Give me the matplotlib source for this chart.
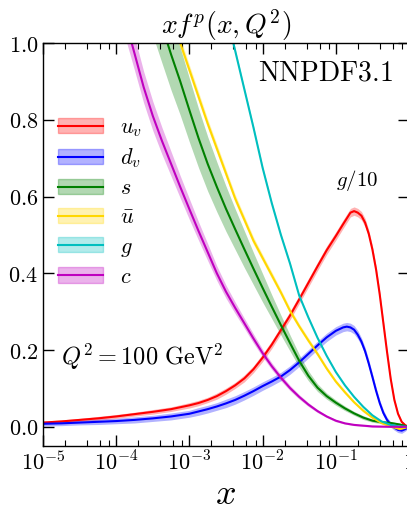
import numpy as np
import matplotlib
matplotlib.use("Agg")
import matplotlib.pyplot as plt
from matplotlib.patches import Patch
from matplotlib.lines import Line2D
from matplotlib.ticker import FixedLocator, FixedFormatter, LogLocator, NullFormatter

plt.rcParams['mathtext.fontset'] = 'cm'
plt.rcParams['font.family'] = ['DejaVu Serif']

# ---------------- data, x given as log10(x) ----------------
uv_logx = [-5.0, -4.75, -4.5, -4.25, -4.0, -3.75, -3.5, -3.25, -3.0, -2.875, -2.75, -2.625,
           -2.5, -2.375, -2.25, -2.125, -2.0, -1.875, -1.75, -1.625, -1.5, -1.375, -1.25,
           -1.125, -1.0, -0.9, -0.8, -0.75, -0.7, -0.65, -0.6, -0.55, -0.5, -0.45, -0.4,
           -0.35, -0.3, -0.25, -0.2, -0.15, -0.1, -0.05, 0.0]
uv_val = [0.011, 0.014, 0.018, 0.022, 0.027, 0.033, 0.039, 0.046, 0.056, 0.062, 0.070, 0.080,
          0.093, 0.108, 0.126, 0.150, 0.180, 0.214, 0.252, 0.290, 0.332, 0.375, 0.418,
          0.460, 0.497, 0.528, 0.558, 0.562, 0.558, 0.550, 0.532, 0.503, 0.462, 0.410, 0.345,
          0.270, 0.195, 0.125, 0.070, 0.034, 0.013, 0.004, 0.0]
uv_err = [0.004, 0.004, 0.004, 0.005, 0.005, 0.005, 0.006, 0.006, 0.007, 0.007, 0.007, 0.008,
          0.008, 0.008, 0.009, 0.009, 0.010, 0.010, 0.010, 0.011, 0.011, 0.011, 0.011,
          0.011, 0.011, 0.011, 0.011, 0.011, 0.011, 0.011, 0.011, 0.010, 0.010, 0.009, 0.009,
          0.008, 0.007, 0.006, 0.005, 0.004, 0.003, 0.002, 0.002]

dv_logx = [-5.0, -4.75, -4.5, -4.25, -4.0, -3.75, -3.5, -3.25, -3.0, -2.875, -2.75, -2.625,
           -2.5, -2.375, -2.25, -2.125, -2.0, -1.875, -1.75, -1.625, -1.5, -1.375, -1.25,
           -1.125, -1.0, -0.9, -0.85, -0.8, -0.75, -0.7, -0.65, -0.6, -0.55, -0.5, -0.45,
           -0.4, -0.35, -0.3, -0.25, -0.2, -0.15, -0.1, -0.05, 0.0]
dv_val = [0.008, 0.009, 0.011, 0.013, 0.015, 0.018, 0.022, 0.027, 0.034, 0.040, 0.046, 0.053,
          0.061, 0.070, 0.081, 0.093, 0.106, 0.118, 0.131, 0.148, 0.168, 0.190, 0.212,
          0.233, 0.250, 0.259, 0.261, 0.259, 0.253, 0.240, 0.222, 0.197, 0.165, 0.130, 0.094,
          0.062, 0.036, 0.018, 0.006, -0.002, -0.008, -0.010, -0.006, 0.0]
dv_err = [0.006, 0.006, 0.006, 0.007, 0.007, 0.008, 0.008, 0.009, 0.009, 0.010, 0.010, 0.010,
          0.011, 0.011, 0.011, 0.011, 0.011, 0.011, 0.011, 0.011, 0.011, 0.011, 0.011,
          0.011, 0.011, 0.011, 0.011, 0.011, 0.011, 0.011, 0.010, 0.010, 0.010, 0.009, 0.009,
          0.008, 0.008, 0.007, 0.007, 0.007, 0.007, 0.007, 0.005, 0.003]

s_logx = [-3.5, -3.375, -3.25, -3.125, -3.0, -2.875, -2.75, -2.625, -2.5, -2.375, -2.25,
          -2.125, -2.0, -1.875, -1.75, -1.625, -1.5, -1.375, -1.25, -1.125, -1.0, -0.875,
          -0.75, -0.625, -0.5, -0.375, -0.25, -0.125, 0.0]
s_val = [1.12, 1.045, 0.970, 0.900, 0.825, 0.752, 0.685, 0.625, 0.568, 0.515, 0.463,
         0.412, 0.362, 0.313, 0.265, 0.218, 0.172, 0.133, 0.102, 0.080, 0.063, 0.048,
         0.035, 0.024, 0.016, 0.012, 0.010, 0.006, 0.0]
s_err = [0.100, 0.097, 0.093, 0.088, 0.083, 0.077, 0.071, 0.065, 0.059, 0.053, 0.048,
         0.042, 0.037, 0.031, 0.026, 0.021, 0.017, 0.013, 0.010, 0.008, 0.007, 0.006,
         0.005, 0.005, 0.004, 0.004, 0.004, 0.003, 0.002]

ub_logx = [-3.25, -3.125, -3.0, -2.875, -2.75, -2.625, -2.5, -2.375, -2.25, -2.125, -2.0,
           -1.875, -1.75, -1.625, -1.5, -1.375, -1.25, -1.125, -1.0, -0.875, -0.75, -0.625,
           -0.5, -0.375, -0.25, -0.125, 0.0]
ub_val = [1.07, 1.00, 0.930, 0.860, 0.790, 0.725, 0.660, 0.595, 0.540, 0.485, 0.440,
          0.395, 0.350, 0.302, 0.262, 0.225, 0.190, 0.152, 0.118, 0.090, 0.064, 0.042,
          0.024, 0.010, 0.001, -0.006, 0.0]
ub_err = [0.014, 0.014, 0.013, 0.013, 0.012, 0.012, 0.011, 0.011, 0.010, 0.010, 0.009,
          0.009, 0.008, 0.008, 0.007, 0.007, 0.006, 0.006, 0.005, 0.005, 0.004, 0.004,
          0.003, 0.003, 0.003, 0.003, 0.002]

g_logx = [-2.5, -2.375, -2.25, -2.125, -2.0, -1.875, -1.75, -1.625, -1.5, -1.375, -1.25,
          -1.125, -1.0, -0.875, -0.75, -0.625, -0.5, -0.375, -0.25, -0.125, 0.0]
g_val = [1.08, 0.980, 0.880, 0.780, 0.675, 0.583, 0.500, 0.425, 0.342, 0.285, 0.232,
         0.185, 0.143, 0.108, 0.078, 0.052, 0.030, 0.014, 0.005, 0.001, 0.0]
g_err = [0.006, 0.006, 0.005, 0.005, 0.005, 0.004, 0.004, 0.004, 0.003, 0.003, 0.003,
         0.003, 0.002, 0.002, 0.002, 0.002, 0.002, 0.001, 0.001, 0.001, 0.001]

c_logx = [-4.0, -3.875, -3.75, -3.625, -3.5, -3.375, -3.25, -3.125, -3.0, -2.875, -2.75,
          -2.625, -2.5, -2.375, -2.25, -2.125, -2.0, -1.875, -1.75, -1.625, -1.5, -1.375,
          -1.25, -1.125, -1.0, -0.875, -0.75, -0.5, -0.25, 0.0]
c_val = [1.15, 1.06, 0.973, 0.885, 0.810, 0.745, 0.685, 0.625, 0.567, 0.510, 0.455,
         0.400, 0.352, 0.310, 0.270, 0.230, 0.192, 0.158, 0.128, 0.101, 0.078, 0.058,
         0.041, 0.027, 0.016, 0.009, 0.005, 0.001, 0.0, 0.0]
c_err = [0.050, 0.047, 0.044, 0.041, 0.038, 0.035, 0.032, 0.029, 0.027, 0.024, 0.022,
         0.019, 0.017, 0.015, 0.013, 0.012, 0.010, 0.009, 0.008, 0.007, 0.006, 0.005,
         0.004, 0.003, 0.003, 0.002, 0.002, 0.002, 0.001, 0.001]

labels = [r'$u_v$', r'$d_v$', r'$s$', r'$\bar{u}$', r'$g$', r'$c$']
colors = ['#ff0000', '#0000ff', '#008000', '#ffd700', '#00bfbf', '#bf00bf']

xtick_vals = [1e-5, 1e-4, 1e-3, 1e-2, 1e-1, 1.0]
xtick_labels = [r'$10^{-5}$', r'$10^{-4}$', r'$10^{-3}$', r'$10^{-2}$', r'$10^{-1}$', r'$1$']
ytick_vals = [0.0, 0.2, 0.4, 0.6, 0.8, 1.0]

series = [(uv_logx, uv_val, uv_err), (dv_logx, dv_val, dv_err), (s_logx, s_val, s_err),
          (ub_logx, ub_val, ub_err), (g_logx, g_val, g_err), (c_logx, c_val, c_err)]

# ---------------- figure ----------------
W, H = 407, 511
fig = plt.figure(figsize=(W / 100, H / 100), dpi=100)
ax = fig.add_axes([43 / W, 1 - 446 / H, 366 / W, 403 / H])

for (lx, v, e), col in zip(series, colors):
    x = 10 ** np.array(lx)
    v = np.array(v)
    e = np.array(e)
    ax.fill_between(x, v - e, v + e, color=col, alpha=0.3, linewidth=0)
    ax.plot(x, v, color=col, lw=1.5)

ax.set_xscale('log')
ax.set_xlim(1e-5, 1.0)
ax.set_ylim(-0.05, 1.0)

ax.xaxis.set_major_locator(FixedLocator(xtick_vals))
ax.xaxis.set_major_formatter(FixedFormatter(xtick_labels))
ax.xaxis.set_minor_locator(LogLocator(base=10, subs=[2, 4, 6, 8], numticks=20))
ax.xaxis.set_minor_formatter(NullFormatter())
ax.yaxis.set_major_locator(FixedLocator(ytick_vals))
ax.yaxis.set_major_formatter(FixedFormatter([r'$%.1f$' % t for t in ytick_vals]))

ax.tick_params(which='both', direction='in', top=True, right=True, labelsize=16)
ax.tick_params(which='major', length=8, width=1)
ax.tick_params(which='minor', length=4, width=0.8)
ax.tick_params(axis='x', pad=4)
for sp in ax.spines.values():
    sp.set_linewidth(1.0)

ax.set_title(r'$xf^p(x,Q^2)$', fontsize=20, pad=6)
ax.set_xlabel(r'$x$', fontsize=26, labelpad=1)

ax.text(0.956, 0.926, r'$\mathrm{NNPDF3.1}$', transform=ax.transAxes, fontsize=20,
        ha='right', va='center')
ax.text(0.049, 0.221, r'$Q^2 = 100\ \mathrm{GeV}^2$', transform=ax.transAxes, fontsize=17.5,
        ha='left', va='center')
ax.text(0.858, 0.66, r'$g/10$', transform=ax.transAxes, fontsize=15, ha='center', va='center')

handles = [(Patch(facecolor=col, edgecolor=col, alpha=0.3), Line2D([], [], color=col, lw=1.5))
           for col in colors]
ax.legend(handles, labels, loc='center left', bbox_to_anchor=(0.011, 0.605), frameon=False,
          fontsize=16, handlelength=2.0, handleheight=0.68, labelspacing=0.32,
          handletextpad=0.8, borderaxespad=0.0, borderpad=0.5)

fig.savefig('out.png', dpi=100)
